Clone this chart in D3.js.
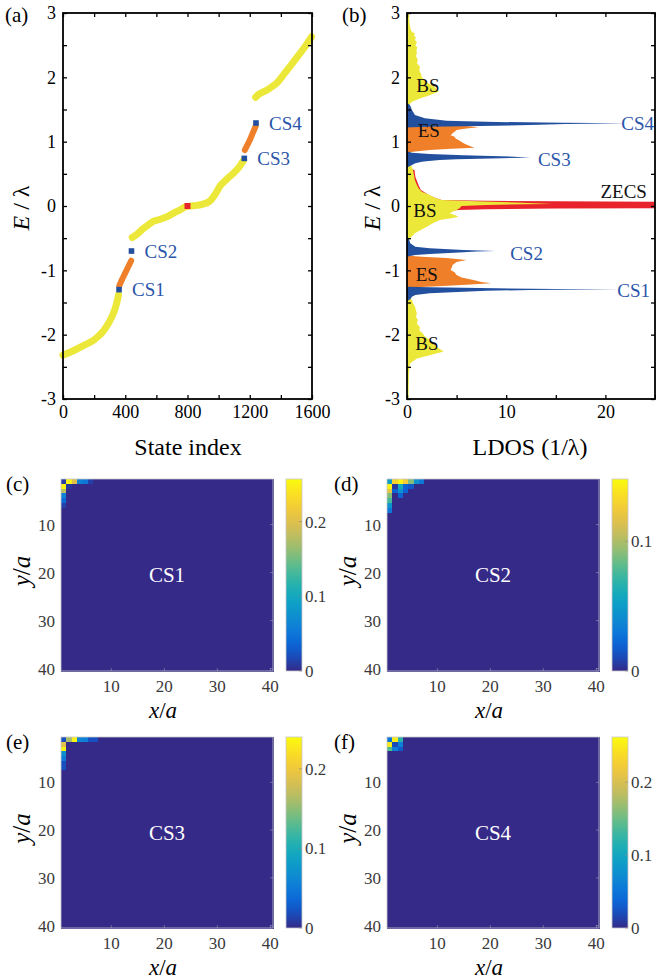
<!DOCTYPE html>
<html><head><meta charset="utf-8">
<script src="https://cdn.jsdelivr.net/npm/d3@7"></script>
<style>body{margin:0;background:#fff} text{font-family:"Liberation Serif","Times New Roman",serif}</style>
</head><body><svg id="c" width="656" height="980" xmlns="http://www.w3.org/2000/svg"></svg>
<script>
// ---------------- DATA ----------------
// (a) energy spectrum: [state index, E/lambda]
const bulk1 = [[0,-2.32],[30,-2.29],[66,-2.25],[100,-2.21],[131,-2.17],[165,-2.13],[195,-2.09],[220,-2.04],[250,-1.97],[280,-1.87],[302,-1.78],[320,-1.69],[338,-1.57],[350,-1.46],[357,-1.38]];
const edge1 = [[362,-1.24],[380,-1.14],[400,-1.04],[420,-0.94],[438,-0.85]];
const bulk2 = [[445,-0.49],[480,-0.43],[516,-0.35],[550,-0.29],[580,-0.24],[620,-0.21],[666,-0.17],[710,-0.11],[752,-0.06],[790,-0.01],[820,0.0],[860,0.01],[900,0.03],[945,0.08],[980,0.19],[1009,0.31],[1050,0.41],[1095,0.51],[1130,0.60],[1160,0.71]];
const edge2 = [[1168,0.87],[1185,0.95],[1205,1.05],[1222,1.15],[1238,1.24]];
const bulk3 = [[1238,1.69],[1260,1.74],[1309,1.80],[1340,1.85],[1373,1.91],[1420,2.05],[1459,2.17],[1500,2.30],[1550,2.46],[1597,2.63]];
const cornerStates = [["CS1",360,-1.30],["CS2",440,-0.70],["CS3",1165,0.74],["CS4",1240,1.29]];
const zeroState = [800,0.0];

// (b) LDOS profiles: [E/lambda, LDOS]
const ldosBS = [[3.0,0.2],[2.85,0.25],[2.75,0.35],[2.71,0.5],[2.68,0.8],[2.65,0.7],[2.62,0.9],[2.58,0.8],[2.55,1.0],[2.5,0.85],[2.46,1.05],[2.43,0.95],[2.38,1.0],[2.33,0.9],[2.27,1.1],[2.22,1.0],[2.17,1.3],[2.1,1.25],[2.06,1.4],[2.0,1.5],[1.96,1.8],[1.9,2.2],[1.86,2.7],[1.78,3.2],[1.72,2.3],[1.67,1.3],[1.62,0.5],[1.57,0.2],[1.2,0.15],[0.8,0.15],[0.637,0.4],[0.56,0.6],[0.48,0.7],[0.40,0.8],[0.326,1.0],[0.27,1.2],[0.223,1.5],[0.171,2.3],[0.13,2.8],[0.093,3.5],[0.075,7],[0.055,11],[0.033,14.7],[0.027,12],[0.015,8],[0.0,5.5],[-0.036,5.3],[-0.062,5.0],[-0.09,4.6],[-0.114,4.3],[-0.14,4.8],[-0.166,5.2],[-0.19,4.5],[-0.218,3.3],[-0.27,2.6],[-0.321,2.0],[-0.38,1.3],[-0.425,0.8],[-0.503,0.3],[-0.6,0.15],[-1.0,0.15],[-1.41,0.2],[-1.46,0.5],[-1.51,0.6],[-1.56,0.8],[-1.62,0.9],[-1.67,1.0],[-1.72,0.9],[-1.77,1.1],[-1.83,1.0],[-1.88,1.3],[-1.93,1.25],[-1.98,1.6],[-2.03,1.8],[-2.08,2.3],[-2.14,2.6],[-2.19,3.0],[-2.26,3.7],[-2.32,2.3],[-2.37,1.0],[-2.45,0.3],[-2.6,0.2],[-3.0,0.15]];
const ldosES1 = [[1.30,0],[1.29,1],[1.27,3],[1.245,6],[1.225,7.2],[1.205,6.0],[1.181,5.0],[1.155,4.8],[1.13,4.6],[1.10,4.4],[1.078,4.8],[1.05,4.9],[1.026,5.2],[0.974,5.7],[0.94,6.2],[0.907,6.8],[0.89,4.5],[0.87,2.3],[0.844,0.6],[0.82,0]];
const ldosES2 = [[-0.77,0],[-0.79,1.5],[-0.81,4],[-0.84,6.0],[-0.87,5.0],[-0.917,4.6],[-0.96,4.5],[-0.995,4.4],[-1.03,4.8],[-1.073,5.0],[-1.11,5.5],[-1.15,6.7],[-1.18,7.5],[-1.202,8.5],[-1.225,6],[-1.243,3.6],[-1.26,1.5],[-1.27,0]];
const ldosCS4 = [[1.60,0],[1.57,0.3],[1.492,0.5],[1.415,0.8],[1.363,1.8],[1.326,4.0],[1.306,9.0],[1.295,15.7],[1.287,22.3],[1.275,16],[1.259,12.4],[1.244,7.3],[1.233,2.3],[1.225,0.5],[1.22,0]];
const ldosCS3 = [[0.85,0],[0.829,0.5],[0.808,2.3],[0.788,5.7],[0.767,10.8],[0.751,12.4],[0.743,9.5],[0.736,7.3],[0.725,5],[0.715,3.3],[0.70,2.2],[0.689,1.5],[0.664,0.84],[0.637,0.5],[0.61,0.16],[0.59,0]];
const ldosCS2 = [[-0.48,0],[-0.503,0.16],[-0.58,0.33],[-0.632,0.84],[-0.658,2.3],[-0.684,5.7],[-0.70,8.9],[-0.708,7],[-0.72,5.7],[-0.746,2.3],[-0.762,0.84],[-0.777,0.33],[-0.79,0]];
const ldosCS1 = [[-1.255,0],[-1.264,2.3],[-1.28,9],[-1.29,15],[-1.296,21.5],[-1.30,16],[-1.306,12.4],[-1.318,8],[-1.332,5.7],[-1.358,2.3],[-1.383,0.84],[-1.41,0.5],[-1.45,0.33],[-1.48,0]];
const ldosZECS = [[0.6,0],[0.56,0.75],[0.45,0.85],[0.33,1.15],[0.25,1.4],[0.17,2.2],[0.13,2.8],[0.093,3.5],[0.08,8],[0.072,15],[0.067,25],[0.062,40],[-0.03,40],[-0.036,25],[-0.04,15],[-0.05,8],[-0.062,5.2],[-0.09,3.5],[-0.12,2],[-0.15,0]];
const ldosLabels = [["BS",2.1,1.88,"k","middle"],["ES",2.2,1.18,"k","middle"],["CS3",13.2,0.72,"b","start"],["CS4",21.6,1.29,"b","start"],["ZECS",19.5,0.22,"k","start"],["BS",1.8,-0.06,"k","middle"],["CS2",10.4,-0.73,"b","start"],["ES",2.0,-1.07,"k","middle"],["CS1",21.2,-1.31,"b","start"],["BS",2.0,-2.13,"k","middle"]];

// (c)-(f) probability density of corner states: [x/a, y/a, value]; other cells are 0
const cs1Cells = [[1,1,0.01],[2,1,0.25],[3,1,0.2],[4,1,0.06],[5,1,0.05],[6,1,0.012],[1,2,0.25],[1,3,0.18],[1,4,0.06],[1,5,0.04],[1,6,0.012],[2,2,0.008]];
const cs2Cells = [[1,1,0.05],[2,1,0.13],[3,1,0.145],[4,1,0.125],[5,1,0.09],[6,1,0.045],[7,1,0.03],[1,2,0.145],[1,3,0.12],[1,4,0.09],[1,5,0.075],[1,6,0.045],[1,7,0.03],[3,2,0.06],[4,2,0.02],[5,2,0.015],[2,3,0.02],[3,3,0.045],[4,3,0.02],[3,4,0.02],[2,2,0.005]];
const cs3Cells = [[1,1,0.02],[2,1,0.16],[3,1,0.235],[4,1,0.06],[5,1,0.055],[6,1,0.02],[7,1,0.02],[1,2,0.19],[1,3,0.235],[1,4,0.07],[1,5,0.05],[1,6,0.02],[1,7,0.02]];
const cs4Cells = [[1,1,0.05],[2,1,0.25],[3,1,0.12],[1,2,0.25],[2,2,0.02],[3,2,0.06],[1,3,0.14],[2,3,0.06],[3,3,0.03]];
const cbarMax = [0.257, 0.148, 0.24, 0.262];
const cbarTicks = [[0,0.1,0.2],[0,0.1],[0,0.1,0.2],[0,0.1,0.2]];
const gridTicks = [10,20,30,40];

// ---------------- DRAW ----------------
const svg = d3.select("#c");
const FONT = '"Liberation Serif","Times New Roman",serif';
const YEL = "#ece83a", ORA = "#f07f2a", BLU = "#22509f", RED = "#e8232b", TXTB = "#2b55aa";
const fmt = d => (d < 0 ? "-" : "") + Math.abs(d);

function boxAxes(x, y, xTicks, xLab, yTicks, yLab) {
  const [x0, x1] = x.range(), [y0, y1] = y.range();
  const style = g => {
    g.select(".domain").remove();
    g.attr("font-family", FONT).attr("font-size", 18);
    g.selectAll("line").attr("stroke", "#000").attr("stroke-width", 1.3);
    g.selectAll("text").attr("fill", "#000");
  };
  svg.append("g").attr("transform", `translate(0,${y0})`)
    .call(d3.axisBottom(x).tickValues(xTicks).tickSize(-4).tickSizeOuter(0).tickPadding(6).tickFormat(d => xLab(d) ? fmt(d) : "")).call(style);
  svg.append("g").attr("transform", `translate(0,${y1})`)
    .call(d3.axisTop(x).tickValues(xTicks).tickSize(-4).tickSizeOuter(0).tickFormat("")).call(style);
  svg.append("g").attr("transform", `translate(${x0},0)`)
    .call(d3.axisLeft(y).tickValues(yTicks).tickSize(-4).tickSizeOuter(0).tickPadding(7).tickFormat(d => yLab(d) ? fmt(d) : "")).call(style);
  svg.append("g").attr("transform", `translate(${x1},0)`)
    .call(d3.axisRight(y).tickValues(yTicks).tickSize(-4).tickSizeOuter(0).tickFormat("")).call(style);
  svg.append("rect").attr("x", x0).attr("y", y1).attr("width", x1 - x0).attr("height", y0 - y1)
    .attr("fill", "none").attr("stroke", "#000").attr("stroke-width", 1.8);
}

const yE = d3.scaleLinear([-3, 3], [399, 13]);
const eTicks = d3.range(-3, 3.01, 0.5).map(v => +v.toFixed(1));

// ----- panel (a)
const xA = d3.scaleLinear([0, 1600], [63, 312]);
const lineA = d3.line().x(d => xA(d[0])).y(d => yE(d[1])).curve(d3.curveMonotoneX);
[bulk1, bulk2, bulk3].forEach(s => svg.append("path").attr("d", lineA(s)).attr("fill", "none")
  .attr("stroke", YEL).attr("stroke-width", 7).attr("stroke-linecap", "round").attr("stroke-linejoin", "round"));
[edge1, edge2].forEach(s => svg.append("path").attr("d", lineA(s)).attr("fill", "none")
  .attr("stroke", ORA).attr("stroke-width", 6).attr("stroke-linecap", "round").attr("stroke-linejoin", "round"));
svg.selectAll(".csm").data(cornerStates).join("rect").attr("class", "csm")
  .attr("x", d => xA(d[1]) - 2.8).attr("y", d => yE(d[2]) - 2.8).attr("width", 5.6).attr("height", 5.6).attr("fill", BLU);
svg.append("rect").attr("x", xA(zeroState[0]) - 3).attr("y", yE(zeroState[1]) - 3).attr("width", 6).attr("height", 6).attr("fill", RED);
svg.selectAll(".csl").data(cornerStates).join("text").attr("class", "csl")
  .attr("x", d => xA(d[1]) + 13).attr("y", d => yE(d[2])).attr("dy", "0.35em")
  .attr("font-size", 19).attr("fill", TXTB).text(d => d[0]);
boxAxes(xA, yE, d3.range(0, 1601, 200), d => d % 400 === 0, eTicks, d => Number.isInteger(d));
svg.append("text").attr("x", 188).attr("y", 455).attr("text-anchor", "middle").attr("font-size", 24).text("State index");
const yl = svg.append("text").attr("transform", "translate(29,208) rotate(-90)").attr("text-anchor", "middle").attr("font-size", 24);
yl.append("tspan").attr("font-style", "italic").text("E");
yl.append("tspan").text(" / λ");
svg.append("text").attr("x", 5).attr("y", 22).attr("font-size", 21).text("(a)");

// ----- panel (b)
const xB = d3.scaleLinear([0, 25], [407, 655]);
svg.append("clipPath").attr("id", "clipB").append("rect").attr("x", 407).attr("y", 13).attr("width", 248).attr("height", 386);
const gB = svg.append("g").attr("clip-path", "url(#clipB)");
const areaB = d3.area().y(d => yE(d[0])).x0(xB(0)).x1(d => xB(d[1]));
gB.append("path").attr("d", areaB(ldosZECS)).attr("fill", RED);
gB.append("path").attr("d", areaB(ldosBS)).attr("fill", YEL);
[ldosES1, ldosES2].forEach(s => gB.append("path").attr("d", areaB(s)).attr("fill", ORA));
[ldosCS4, ldosCS3, ldosCS2, ldosCS1].forEach(s => gB.append("path").attr("d", areaB(s)).attr("fill", BLU));
svg.selectAll(".bl").data(ldosLabels).join("text").attr("class", "bl")
  .attr("x", d => xB(d[1])).attr("y", d => yE(d[2])).attr("dy", "0.35em").attr("text-anchor", d => d[4])
  .attr("font-size", 19).attr("fill", d => d[3] === "b" ? TXTB : "#111").text(d => d[0]);
boxAxes(xB, yE, d3.range(0, 25.1, 5), d => d % 10 === 0, eTicks, d => Number.isInteger(d));
svg.append("text").attr("x", 530).attr("y", 455).attr("text-anchor", "middle").attr("font-size", 24).text("LDOS (1/λ)");
const yl2 = svg.append("text").attr("transform", "translate(380,208) rotate(-90)").attr("text-anchor", "middle").attr("font-size", 24);
yl2.append("tspan").attr("font-style", "italic").text("E");
yl2.append("tspan").text(" / λ");
svg.append("text").attr("x", 342).attr("y", 22).attr("font-size", 21).text("(b)");

// ----- heatmaps
const parula = d3.interpolateRgbBasis(["#352a87", "#0363e1", "#1485d4", "#06a7c6", "#38b99e", "#92bf73", "#d9ba56", "#fcce2e", "#f9fb0e"]);
const panels = [
  {cells: cs1Cells, name: "CS1", lab: "(c)", hx: 61, hy: 479, bottom: 671, lx: 6},
  {cells: cs2Cells, name: "CS2", lab: "(d)", hx: 387, hy: 479, bottom: 671, lx: 334},
  {cells: cs3Cells, name: "CS3", lab: "(e)", hx: 61, hy: 737, bottom: 928, lx: 6},
  {cells: cs4Cells, name: "CS4", lab: "(f)", hx: 387, hy: 737, bottom: 928, lx: 334}
];
const defs = svg.append("defs");
panels.forEach((p, i) => {
  const x = d3.scaleLinear([0.5, 40.5], [p.hx, p.hx + 212]);
  const y = d3.scaleLinear([0.5, 40.5], [p.hy, p.bottom]);
  const col = d3.scaleSequential(parula).domain([0, cbarMax[i]]).clamp(true);
  const lookup = new Map(p.cells.map(c => [c[0] + "," + c[1], c[2]]));
  const grid = [];
  for (let r = 1; r <= 40; r++) for (let c = 1; c <= 40; c++) grid.push([c, r, lookup.get(c + "," + r) || 0]);
  svg.append("rect").attr("x", x(0.5)).attr("y", y(0.5)).attr("width", x(40.5) - x(0.5)).attr("height", y(40.5) - y(0.5)).attr("fill", col(0));
  svg.append("g").attr("shape-rendering", "crispEdges").selectAll("rect").data(grid).join("rect")
    .attr("x", d => x(d[0] - 0.5)).attr("y", d => y(d[1] - 0.5))
    .attr("width", d => x(d[0] + 0.5) - x(d[0] - 0.5) + 0.6).attr("height", d => y(d[1] + 0.5) - y(d[1] - 0.5) + 0.6)
    .attr("fill", d => col(d[2]));
  // frame + ticks
  const g = svg.append("g").attr("stroke", "#c8c8c8").attr("stroke-width", 0.8);
  g.append("rect").attr("x", x(0.5)).attr("y", y(0.5)).attr("width", x(40.5) - x(0.5)).attr("height", y(40.5) - y(0.5)).attr("fill", "none");
  gridTicks.forEach(t => {
    g.append("line").attr("x1", x(t)).attr("x2", x(t)).attr("y1", y(40.5)).attr("y2", y(40.5) - 3).attr("stroke-opacity", 0.5);
    g.append("line").attr("x1", x(40.5)).attr("x2", x(40.5) - 3).attr("y1", y(t)).attr("y2", y(t)).attr("stroke-opacity", 0.5);
  });
  const tl = svg.append("g").attr("font-size", 17).attr("fill", "#3a3a3a");
  tl.selectAll(".xt").data(gridTicks).join("text").attr("x", d => x(d)).attr("y", p.bottom + 21).attr("text-anchor", "middle").text(d => d);
  tl.selectAll(".yt").data(gridTicks).join("text").attr("x", p.hx - 6).attr("y", d => y(d)).attr("dy", "0.35em").attr("text-anchor", "end").text(d => d);
  svg.append("text").attr("x", (x(0.5) + x(40.5)) / 2).attr("y", (y(0.5) + y(40.5)) / 2).attr("dy", "0.35em")
    .attr("text-anchor", "middle").attr("font-size", 21).attr("fill", "#fff").text(p.name);
  // axis labels
  const xl = svg.append("text").attr("x", x(20.5) - 4).attr("y", p.bottom + 47).attr("text-anchor", "middle").attr("font-size", 23);
  xl.append("tspan").attr("font-style", "italic").text("x");
  xl.append("tspan").text("/");
  xl.append("tspan").attr("font-style", "italic").text("a");
  const ylab = svg.append("text").attr("transform", `translate(${p.hx - 31},${(p.hy + p.bottom) / 2 - 4}) rotate(-90)`).attr("text-anchor", "middle").attr("font-size", 25);
  ylab.append("tspan").attr("font-style", "italic").text("y");
  ylab.append("tspan").text("/");
  ylab.append("tspan").attr("font-style", "italic").text("a");
  svg.append("text").attr("x", p.lx).attr("y", p.hy + 12).attr("font-size", 21).text(p.lab);
  // colorbar
  const cbx = p.hx + 225, cbw = 16;
  const cy = d3.scaleLinear([0, cbarMax[i]], [p.bottom, p.hy]);
  const gid = "grad" + i;
  const lg = defs.append("linearGradient").attr("id", gid).attr("x1", 0).attr("y1", 1).attr("x2", 0).attr("y2", 0);
  d3.range(0, 1.001, 0.05).forEach(t => lg.append("stop").attr("offset", t).attr("stop-color", parula(t)));
  svg.append("rect").attr("x", cbx).attr("y", p.hy).attr("width", cbw).attr("height", p.bottom - p.hy)
    .attr("fill", `url(#${gid})`).attr("stroke", "#c8c8c8").attr("stroke-width", 0.8);
  cbarTicks[i].forEach(t => {
    svg.append("line").attr("x1", cbx + cbw).attr("x2", cbx + cbw - 3).attr("y1", cy(t)).attr("y2", cy(t)).attr("stroke", "#888").attr("stroke-width", 0.6);
  });
  svg.append("g").attr("font-size", 17).attr("fill", "#3a3a3a").selectAll("text").data(cbarTicks[i]).join("text")
    .attr("x", cbx + cbw + 3).attr("y", d => cy(d)).attr("dy", "0.35em").text(d => d);
});
</script></body></html>
